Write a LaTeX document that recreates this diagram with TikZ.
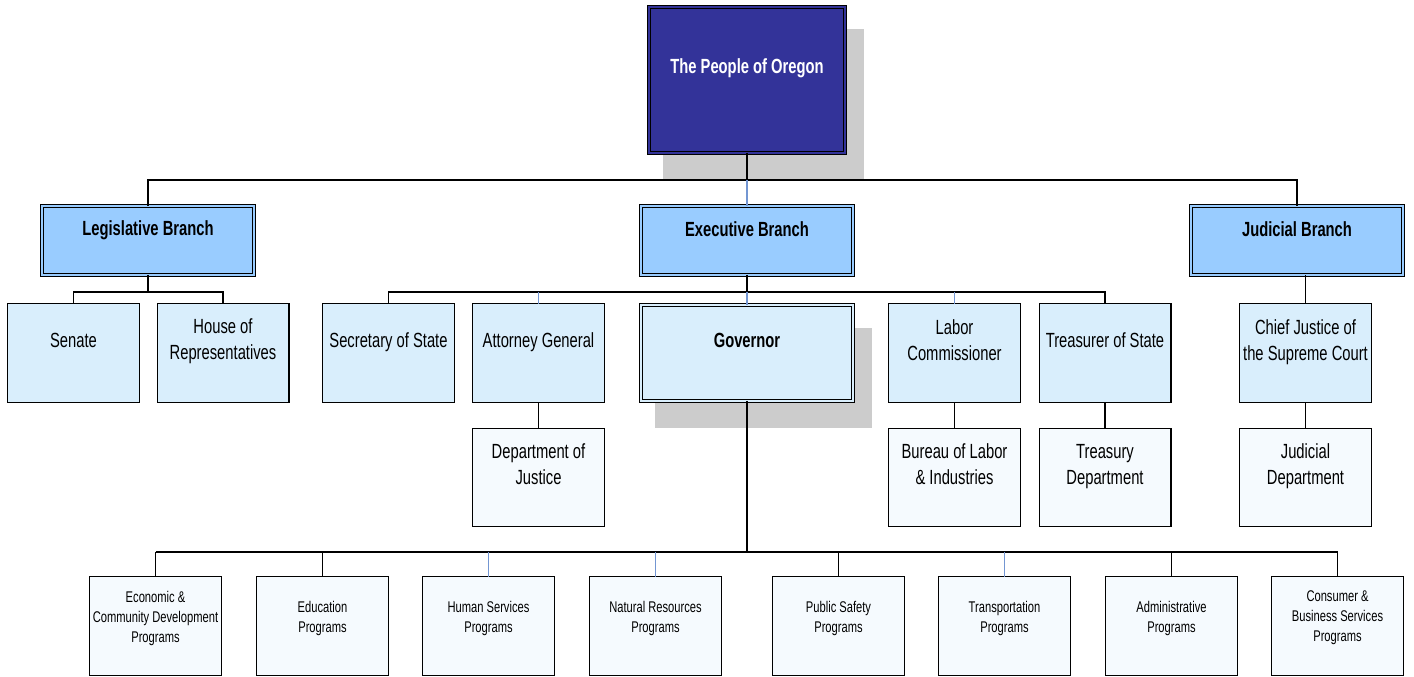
\documentclass[tikz,border=0pt]{standalone}
\usepackage{fontspec}
\setmainfont[FakeStretch=0.72]{Liberation Sans}
\definecolor{peoplefill}{HTML}{333399}
\definecolor{branchfill}{HTML}{99CCFF}
\definecolor{midfill}{HTML}{D9EEFC}
\definecolor{leaffill}{HTML}{F5FAFE}
\definecolor{shadowgray}{HTML}{CCCCCC}
\definecolor{bluelink}{HTML}{7396D2}
\tikzset{
  box/.style={rectangle, draw=black, line width=1.2pt, inner sep=0pt, outer sep=0pt},
  dblbox/.style={rectangle, draw=black, double=#1, double distance=2pt, line width=1.2pt, fill=#1, inner sep=0pt, outer sep=0pt},
  midbox/.style={box, fill=midfill, minimum width=131.8pt, minimum height=98.8pt},
  leafbox/.style={box, fill=leaffill, minimum width=131.8pt, minimum height=97.8pt},
  progbox/.style={box, fill=leaffill, minimum width=131.8pt, minimum height=98.8pt},
  branchbox/.style={dblbox=branchfill, minimum width=211.6pt, minimum height=68.6pt},
  shadowbox/.style={fill=shadowgray, draw=none},
  txt/.style={inner sep=0pt, align=center, font=\fontsize{20.5}{26}\selectfont},
  btxt/.style={inner sep=0pt, align=center, font=\fontsize{20.5}{26}\selectfont\bfseries},
  stxt/.style={inner sep=0pt, align=center, font=\fontsize{15.5}{20}\selectfont},
  conn/.style={draw=black, line width=1.2pt},
  blueconn/.style={draw=bluelink, line width=1.2pt},
  thickconn/.style={draw=black, line width=2pt},
}
\begin{document}
\begin{tikzpicture}[x=1pt,y=-1pt]
\useasboundingbox (0,0) rectangle (1414,677);
% shadows
\fill[shadowbox] (663,29) rectangle (864,180);
\fill[shadowbox] (655,328) rectangle (872,428);
% boxes
\node[dblbox=peoplefill, minimum width=195.6pt, minimum height=145.6pt] (people) at (747,80) {};
\node[branchbox] (leg) at (148,240.5) {};
\node[branchbox] (exe) at (747,240.5) {};
\node[branchbox] (jud) at (1297,240.5) {};
\node[midbox] (sen) at (73.5,353) {};
\node[midbox] (hou) at (223,353) {};
\node[midbox] (sec) at (388.5,353) {};
\node[midbox] (att) at (538.5,353) {};
\node[dblbox=midfill, minimum width=211.6pt, minimum height=95.6pt] (gov) at (747,353) {};
\node[midbox] (lab) at (954.5,353) {};
\node[midbox] (tre) at (1105,353) {};
\node[midbox] (cj) at (1305.5,353) {};
\node[leafbox] (doj) at (538.5,477.5) {};
\node[leafbox] (bol) at (954.5,477.5) {};
\node[leafbox] (trd) at (1105,477.5) {};
\node[leafbox] (jd) at (1305.5,477.5) {};
\node[progbox] (eco) at (155.5,626) {};
\node[progbox] (edu) at (322.5,626) {};
\node[progbox] (hum) at (488.5,626) {};
\node[progbox] (nat) at (655.5,626) {};
\node[progbox] (pub) at (838.5,626) {};
\node[progbox] (tra) at (1004.5,626) {};
\node[progbox] (adm) at (1171.5,626) {};
\node[progbox] (con) at (1337.5,626) {};
% bus coordinates
\coordinate (bus1) at (747,180);
\coordinate (bus2) at (148,292);
\coordinate (bus3) at (747,292);
\coordinate (bus4) at (747,552);
% connectors
\draw[conn] (people.south) -- (bus1);
\draw[conn] (leg.north) |- (bus1) -| (jud.north);
\draw[blueconn] (bus1) -- (exe.north);
\draw[conn] (leg.south) -- (bus2);
\draw[conn] (sen.north) |- (bus2) -| (hou.north);
\draw[conn] (exe.south) -- (bus3);
\draw[conn] (sec.north) |- (bus3) -| (tre.north);
\draw[blueconn] (att.north) -- (att.north |- bus3);
\draw[blueconn] (gov.north) -- (bus3);
\draw[blueconn] (lab.north) -- (lab.north |- bus3);
\draw[conn] (att.south) -- (doj.north);
\draw[conn] (lab.south) -- (bol.north);
\draw[conn] (tre.south) -- (trd.north);
\draw[conn] (cj.north) -- (cj.north |- jud.south);
\draw[conn] (cj.south) -- (jd.north);
\draw[thickconn] (gov.south) -- (bus4);
\draw[thickconn] (eco.north |- bus4) -- (con.north |- bus4);
\draw[conn] (eco.north) -- (eco.north |- bus4);
\draw[conn] (edu.north) -- (edu.north |- bus4);
\draw[blueconn] (hum.north) -- (hum.north |- bus4);
\draw[blueconn] (nat.north) -- (nat.north |- bus4);
\draw[conn] (pub.north) -- (pub.north |- bus4);
\draw[blueconn] (tra.north) -- (tra.north |- bus4);
\draw[conn] (adm.north) -- (adm.north |- bus4);
\draw[conn] (con.north) -- (con.north |- bus4);
% texts
\node[btxt, text=white] (people-t) at (747,68) {The People of Oregon};
\node[btxt] (leg-t) at (148,230) {Legislative Branch};
\node[btxt] (exe-t) at (747,229) {Executive Branch};
\node[btxt] (jud-t) at (1297,229) {Judicial Branch};
\node[txt] (sen-t) at (73.5,340) {Senate};
\node[txt] (hou-t) at (223,341) {House of\\Representatives};
\node[txt] (sec-t) at (388.5,342) {Secretary of State};
\node[txt] (att-t) at (538.5,342) {Attorney General};
\node[btxt] (gov-t) at (747,340) {Governor};
\node[txt] (lab-t) at (954.5,340) {Labor\\Commissioner};
\node[txt] (tre-t) at (1105,340) {Treasurer of State};
\node[txt] (cj-t) at (1305.5,342) {Chief Justice of\\the Supreme Court};
\node[txt] (doj-t) at (538.5,464) {Department of\\Justice};
\node[txt] (bol-t) at (954.5,464) {Bureau of Labor\\\& Industries};
\node[txt] (trd-t) at (1105,467) {Treasury\\Department};
\node[txt] (jd-t) at (1305.5,466) {Judicial\\Department};
\node[stxt] (eco-t) at (155.5,618) {Economic \&\\Community Development\\Programs};
\node[stxt] (edu-t) at (322.5,618) {Education\\Programs};
\node[stxt] (hum-t) at (488.5,618) {Human Services\\Programs};
\node[stxt] (nat-t) at (655.5,618) {Natural Resources\\Programs};
\node[stxt] (pub-t) at (838.5,618) {Public Safety\\Programs};
\node[stxt] (tra-t) at (1004.5,618) {Transportation\\Programs};
\node[stxt] (adm-t) at (1171.5,618) {Administrative\\Programs};
\node[stxt] (con-t) at (1337.5,618) {Consumer \&\\Business Services\\Programs};
\end{tikzpicture}
\end{document}
